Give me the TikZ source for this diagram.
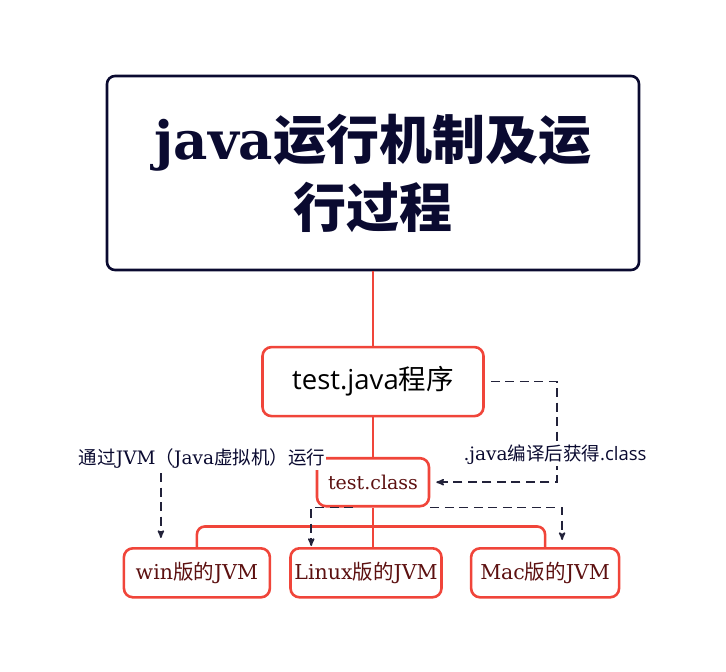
\documentclass[tikz,border=0pt]{standalone}
\usepackage{fontspec}
\setmainfont{DejaVu Serif}
\newfontfamily\cjk{Noto Sans CJK SC}
\newfontfamily\opensans{Open Sans}
\newcommand\zh[1]{{\cjk #1}}
\usetikzlibrary{arrows}
\usetikzlibrary{calc}
\usetikzlibrary{positioning}
\definecolor{navy}{HTML}{0A0A30}
\definecolor{boxred}{HTML}{F0453A}
\definecolor{textred}{HTML}{5C1010}
\definecolor{dashnavy}{HTML}{22223A}
\tikzset{
  titlebox/.style={draw=navy, line width=2.6pt, rounded corners=8pt, text=navy,
    minimum width=532pt, minimum height=194pt, align=center, inner sep=0pt,
    font=\fontsize{53}{68}\selectfont\bfseries},
  redbox/.style={draw=boxred, line width=2.6pt, rounded corners=9pt, inner sep=0pt},
  javabox/.style={redbox, minimum width=221pt, minimum height=69pt,
    font=\fontsize{27.5}{32}\selectfont},
  classbox/.style={redbox, minimum width=112pt, minimum height=48pt, text=textred,
    font=\fontsize{19}{23}\selectfont},
  jvmbox/.style={redbox, minimum height=49pt, text=textred,
    font=\fontsize{20.5}{24}\selectfont},
  redline/.style={draw=boxred, line width=2.6pt},
  lbl/.style={text=navy, fill=white, inner sep=1pt, font=\fontsize{18.5}{22}\selectfont},
  dasharrow/.style={->, draw=dashnavy, line width=1.6pt, dash pattern=on 9pt off 5.5pt, shorten >=1pt}
}
\begin{document}
\begin{tikzpicture}[>=stealth']
      \useasboundingbox (0,0) rectangle (726pt,-672pt);
      \node[titlebox] (title) at (373pt,-173pt) {java\zh{运行机制及运}\\\zh{行过程}};
      \node[javabox, below=74.5pt of title] (java) {\opensans test.java\zh{程序}};
      \node[classbox, below=39.5pt of java] (class) {test.class};
      \node[jvmbox, minimum width=151pt, below=39.5pt of class, xshift=-7pt] (linux) {Linux\zh{版的}JVM};
      \node[jvmbox, minimum width=146pt, left=18pt of linux] (win) {win\zh{版的}JVM};
      \node[jvmbox, minimum width=148pt, right=27pt of linux] (mac) {Mac\zh{版的}JVM};
      % tree lines
      \draw[redline] (title.south) -- (java.north);
      \draw[redline] (java.south) -- (class.north);
      \draw[redline] (class.south) -- (class.south |- linux.north);
      \coordinate (branch) at ($(class.south)!0.48!(class.south |- linux.north)$);
      \draw[redline, rounded corners=8pt] (win.north) |- (branch) -| (mac.north);
      % dashed arrows
      \draw[dasharrow] ([xshift=6pt]java.east) -- ++(66pt,0) |- ([xshift=5pt]class.east);
      \draw[dasharrow] (class.south east) -| ([xshift=17pt,yshift=6pt]mac.north);
      \draw[dasharrow] ([xshift=-20pt]class.south) -| ([xshift=22pt]linux.north west);
      \node[lbl] (compiled) at (555pt,-455pt) {.java\zh{编译后获得}{\opensans .class}};
      \node[lbl] (runvm) at (202pt,-459pt) {\zh{通过}JVM\zh{（}Java\zh{虚拟机）运行}};
      \draw[dasharrow] ($(win.north |- runvm.south)+(-36pt,-3pt)$) -- ([xshift=-36pt,yshift=8pt]win.north);
    \end{tikzpicture}
\end{document}
